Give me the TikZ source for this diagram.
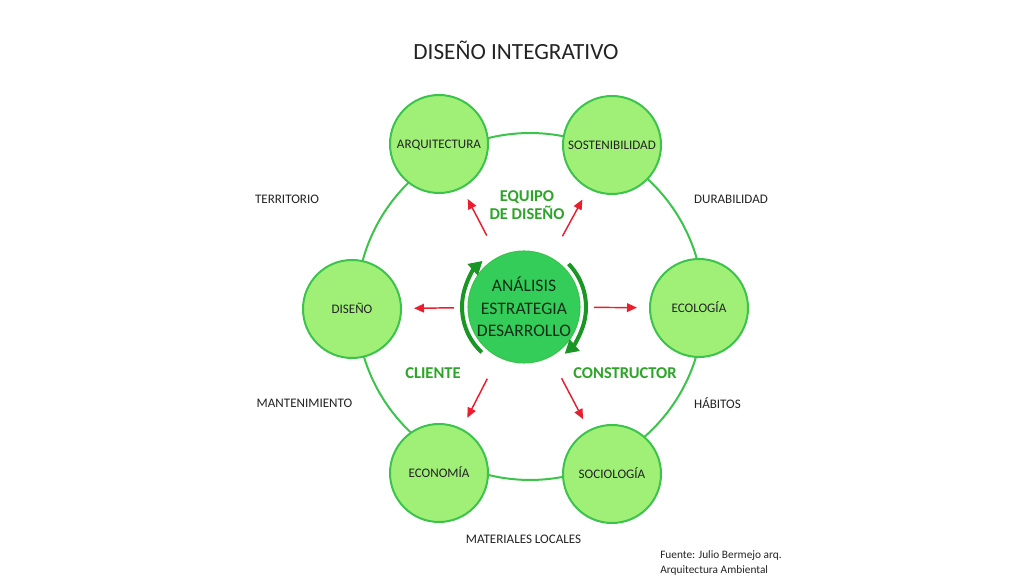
\documentclass[tikz,border=0pt]{standalone}
\usepackage{fontspec}
\setmainfont{Carlito}
\usetikzlibrary{arrows.meta}

\definecolor{verdeclaro}{RGB}{160,240,120}
\definecolor{verdeborde}{RGB}{60,195,75}
\definecolor{verdecentro}{RGB}{52,205,90}
\definecolor{verdeoscuro}{RGB}{25,150,35}
\definecolor{verdetexto}{RGB}{45,165,40}
\definecolor{rojo}{RGB}{235,30,45}
\definecolor{gris}{RGB}{35,35,35}
\definecolor{tinta}{RGB}{20,45,25}

\tikzset{
  tema/.style={circle, draw=verdeborde, line width=1.5pt, fill=verdeclaro,
    minimum size=73.5pt, inner sep=0pt, text=gris,
    text height=6.3pt, text depth=0pt, font=\fontsize{9.8}{12}\selectfont},
  nucleo/.style={circle, draw=verdeborde, line width=0.8pt, fill=verdecentro,
    minimum size=84pt, inner sep=0pt, align=center, text=tinta,
    font=\fontsize{13.2}{16.9}\selectfont},
  rol/.style={align=center, text=verdetexto,
    font=\fontsize{12.4}{13.5}\selectfont\bfseries},
  factor/.style={text=gris, font=\fontsize{9.8}{12}\selectfont},
  flecha/.style={draw=rojo, line width=1.1pt,
    -{Triangle[length=7.5pt,width=6.5pt]}, shorten >=9pt},
  giro/.style={draw=verdeoscuro, line width=3pt,
    -{Triangle[length=10pt,width=11pt]}}
}

\begin{document}
\begin{tikzpicture}[x=0.75pt, y=0.75pt]
        \useasboundingbox (0,0) rectangle (1024,585);

        % Title
        \node[text=gris, font=\fontsize{17.4}{20}\selectfont] (titulo) at (516,535) {DISEÑO INTEGRATIVO};

        % Outer ring
        \draw[verdeborde, line width=1.5pt] (530,278.5) circle[radius=130.1pt];

        % Topic circles
        \node[tema] (arq)  at (439,441) {ARQUITECTURA};
        \node[tema] (sost) at (612,440) {SOSTENIBILIDAD};
        \node[tema] (eco)  at (699,277) {ECOLOGÍA};
        \node[tema] (soc)  at (612,111) {SOCIOLOGÍA};
        \node[tema] (econ) at (439,112) {ECONOMÍA};
        \node[tema] (dis)  at (352,276) {DISEÑO};

        % Core
        \node[nucleo] (centro) at (524,278) {ANÁLISIS\\ESTRATEGIA\\DESARROLLO};

        % Cycle arrows around the core
        \draw[giro] ([shift={(227:46.5pt)}]centro.center) arc[start angle=227, end angle=132, radius=46.5pt];
        \draw[giro] ([shift={(44:46.5pt)}]centro.center) arc[start angle=44, end angle=-49, radius=46.5pt];

        % Arrows towards the topics
        \draw[flecha, shorten <=18pt] (centro) -- (arq);
        \draw[flecha, shorten <=18pt] (centro) -- (sost);
        \draw[flecha, shorten <=10pt] (centro) -- (eco);
        \draw[flecha, shorten <=18pt] (centro) -- (soc);
        \draw[flecha, shorten <=18pt] (centro) -- (econ);
        \draw[flecha, shorten <=10pt] (centro) -- (dis);

        % Actors
        \node[rol] (equipo) at (527,380) {EQUIPO\\DE DISEÑO};
        \node[rol] (cliente) at (433,212) {CLIENTE};
        \node[rol] (constructor) at (625,212) {CONSTRUCTOR};

        % Outer factors
        \node[factor] (territorio) at (287,386) {TERRITORIO};
        \node[factor] (durabilidad) at (731,386) {DURABILIDAD};
        \node[factor] (mantenimiento) at (304.5,182) {MANTENIMIENTO};
        \node[factor] (habitos) at (717.5,182) {HÁBITOS};
        \node[factor] (materiales) at (523.5,45.5) {MATERIALES LOCALES};

        % Source
        \node[anchor=west, align=left, inner sep=0pt, text=gris,
              font=\fontsize{8.5}{11.3}\selectfont] (fuente) at (660,22)
              {Fuente: Julio Bermejo arq.\\Arquitectura Ambiental};
\end{tikzpicture}
\end{document}
